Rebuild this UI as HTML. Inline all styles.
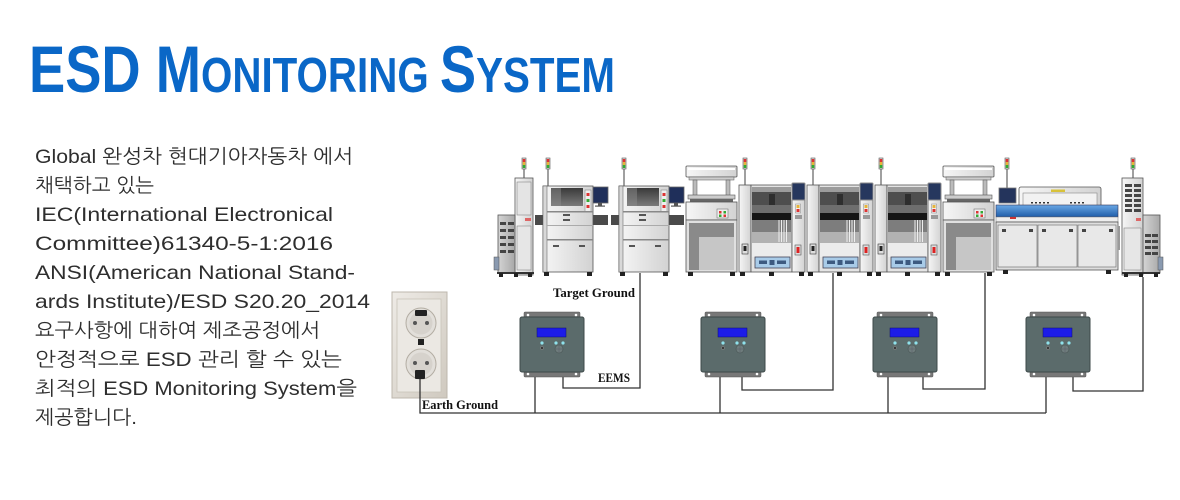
<!DOCTYPE html>
<html>
<head>
<meta charset="utf-8">
<style>
  html,body{margin:0;padding:0;background:#fff;}
  svg{display:block;}
</style>
</head>
<body>
<svg width="1180" height="500" viewBox="0 0 1180 500" xmlns="http://www.w3.org/2000/svg">
  <defs>
    <linearGradient id="gLight" x1="0" y1="0" x2="1" y2="0">
      <stop offset="0" stop-color="#f6f6f6"/>
      <stop offset="1" stop-color="#d2d2d2"/>
    </linearGradient>
    <linearGradient id="gMid" x1="0" y1="0" x2="1" y2="0">
      <stop offset="0" stop-color="#d4d4d4"/>
      <stop offset="1" stop-color="#a8a8a8"/>
    </linearGradient>
    <linearGradient id="gDark" x1="0" y1="0" x2="0" y2="1">
      <stop offset="0" stop-color="#3a3a3a"/>
      <stop offset="1" stop-color="#7a7a7a"/>
    </linearGradient>
    <linearGradient id="gBlue" x1="0" y1="0" x2="0" y2="1">
      <stop offset="0" stop-color="#6aa8e6"/>
      <stop offset="1" stop-color="#1e5ca8"/>
    </linearGradient>
    <linearGradient id="gSock" x1="0" y1="0" x2="1" y2="1">
      <stop offset="0" stop-color="#eeebe6"/>
      <stop offset="1" stop-color="#cfc9bf"/>
    </linearGradient>

    <g id="sig">
      <rect x="-2" y="0" width="4" height="11" fill="#ddd" stroke="#555" stroke-width="0.6"/>
      <rect x="-1.3" y="1" width="2.6" height="3" fill="#d33"/>
      <rect x="-1.3" y="4" width="2.6" height="3" fill="#e6b43a"/>
      <rect x="-1.3" y="7" width="2.6" height="3" fill="#3a3"/>
    </g>

    <!-- chip mounter -->
    <g id="mnt">
      <line x1="6" y1="168" x2="6" y2="185" stroke="#888" stroke-width="1.6"/>
      <use href="#sig" transform="translate(6,158)"/>
      <rect x="0" y="185" width="12" height="87" fill="url(#gLight)" stroke="#555" stroke-width="0.8"/>
      <rect x="12" y="185" width="41" height="87" fill="#e4e4e4" stroke="#555" stroke-width="0.8"/>
      <rect x="13" y="187" width="39" height="5" fill="#9c9c9c"/>
      <rect x="13" y="192" width="39" height="13" fill="#4e4e4e"/>
      <rect x="13" y="205" width="39" height="8" fill="#6e6e6e"/>
      <rect x="30" y="194" width="6" height="11" fill="#2e2e2e"/>
      <rect x="13" y="213" width="39" height="7" fill="#151515"/>
      <rect x="13" y="220" width="39" height="12" fill="#7d7d7d"/>
      <rect x="13" y="232" width="39" height="11" fill="#b2b2b2"/>
      <line x1="40" y1="220" x2="40" y2="242" stroke="#eee" stroke-width="1"/>
      <line x1="42.5" y1="220" x2="42.5" y2="242" stroke="#eee" stroke-width="1"/>
      <line x1="45" y1="220" x2="45" y2="242" stroke="#eee" stroke-width="1"/>
      <line x1="47.5" y1="220" x2="47.5" y2="242" stroke="#eee" stroke-width="1"/>
      <rect x="13" y="243" width="39" height="14" fill="#ececec"/>
      <rect x="16" y="257" width="35" height="11" fill="#a8cbe8" stroke="#445" stroke-width="0.8"/>
      <rect x="20" y="260.5" width="8" height="3.5" fill="#3d5a80"/>
      <rect x="30.5" y="260" width="5" height="5" fill="#3d5a80"/>
      <rect x="38" y="260.5" width="9" height="3.5" fill="#3d5a80"/>
      <rect x="53" y="185" width="13" height="87" fill="url(#gLight)" stroke="#555" stroke-width="0.8"/>
      <rect x="53" y="183" width="13" height="17" rx="1" fill="#26375e" stroke="#8a8a8a" stroke-width="1"/>
      <rect x="56.5" y="204" width="5" height="9" fill="#eee" stroke="#888" stroke-width="0.5"/>
      <rect x="57.5" y="205" width="3" height="3" fill="#e6b43a"/>
      <rect x="57.5" y="209" width="3" height="3" fill="#d33"/>
      <rect x="56" y="215" width="7" height="4" fill="#999"/>
      <rect x="56" y="245" width="6" height="10" fill="#ddd" stroke="#555" stroke-width="0.6"/>
      <rect x="57.5" y="247" width="3" height="6" fill="#d22"/>
      <rect x="3" y="244" width="6" height="10" fill="#ddd" stroke="#333" stroke-width="0.6"/>
      <rect x="4.5" y="246" width="3" height="5" fill="#222"/>
      <rect x="1" y="272" width="5" height="4" fill="#222"/>
      <rect x="30" y="272" width="5" height="4" fill="#222"/>
      <rect x="60" y="272" width="5" height="4" fill="#222"/>
    </g>

    <!-- inspection / printer machine -->
    <g id="aoi">
      <line x1="5" y1="168" x2="5" y2="186" stroke="#888" stroke-width="1.6"/>
      <use href="#sig" transform="translate(5,158)"/>
      <rect x="-8" y="215" width="8" height="10" fill="#4a4a4a"/>
      <rect x="50" y="215" width="15" height="10" fill="#4a4a4a"/>
      <rect x="0" y="186" width="50" height="86" fill="url(#gLight)" stroke="#555" stroke-width="0.8"/>
      <rect x="0" y="186" width="4" height="86" fill="#d8d8d8" stroke="#555" stroke-width="0.5"/>
      <rect x="8" y="188" width="32" height="18" fill="url(#gDark)"/>
      <rect x="8" y="188" width="10" height="18" fill="#8a8a8a" opacity="0.5"/>
      <rect x="42" y="190" width="6" height="22" fill="#eee" stroke="#777" stroke-width="0.5"/>
      <rect x="43.5" y="193" width="3" height="3" fill="#d33"/>
      <rect x="43.5" y="199" width="3" height="3" fill="#3a3"/>
      <rect x="43.5" y="205" width="3" height="3" fill="#d33"/>
      <rect x="4" y="211" width="46" height="1.5" fill="#888"/>
      <rect x="20" y="214" width="7" height="2" fill="#555"/>
      <rect x="20" y="219" width="7" height="2" fill="#555"/>
      <rect x="4" y="225" width="46" height="1" fill="#aaa"/>
      <rect x="4" y="239" width="46" height="1.5" fill="#888"/>
      <rect x="10" y="245" width="6" height="2" fill="#555"/>
      <rect x="36" y="245" width="6" height="2" fill="#555"/>
      <rect x="50" y="187" width="15" height="16" fill="#1f2f5a" stroke="#666" stroke-width="0.8"/>
      <rect x="55" y="203" width="4" height="3" fill="#555"/>
      <rect x="52" y="205.5" width="10" height="1.2" fill="#555"/>
      <rect x="1" y="272" width="5" height="4" fill="#222"/>
      <rect x="44" y="272" width="5" height="4" fill="#222"/>
    </g>

    <!-- frame machine -->
    <g id="prn">
      <rect x="0" y="166" width="51" height="11" rx="1" fill="url(#gLight)" stroke="#555" stroke-width="0.8"/>
      <rect x="2" y="168" width="47" height="2" fill="#fff"/>
      <rect x="3" y="177" width="45" height="3" fill="#ccc" stroke="#555" stroke-width="0.5"/>
      <rect x="7" y="180" width="4" height="16" fill="#bbb" stroke="#555" stroke-width="0.5"/>
      <rect x="40" y="180" width="4" height="16" fill="#bbb" stroke="#555" stroke-width="0.5"/>
      <rect x="2" y="195" width="47" height="4" fill="#ccc" stroke="#555" stroke-width="0.6"/>
      <rect x="4" y="199" width="43" height="3" fill="#666"/>
      <rect x="0" y="202" width="51" height="18" fill="url(#gLight)" stroke="#555" stroke-width="0.8"/>
      <rect x="31" y="209" width="11" height="9" fill="#eee" stroke="#777" stroke-width="0.6"/>
      <rect x="33" y="211" width="2.5" height="2.5" fill="#d33"/>
      <rect x="37.5" y="211" width="2.5" height="2.5" fill="#3a3"/>
      <rect x="33" y="214.5" width="2.5" height="2.5" fill="#3a3"/>
      <rect x="37.5" y="214.5" width="2.5" height="2.5" fill="#d33"/>
      <rect x="0" y="220" width="51" height="52" fill="#e0e0e0" stroke="#555" stroke-width="0.8"/>
      <rect x="3" y="223" width="45" height="47" fill="#8a8a8a"/>
      <rect x="13" y="237" width="35" height="33" fill="#c6c6c6"/>
      <rect x="2" y="272" width="5" height="4" fill="#222"/>
      <rect x="44" y="272" width="5" height="4" fill="#222"/>
    </g>

    <!-- EEMS monitor -->
    <g id="eems">
      <rect x="4" y="-5" width="56" height="8" rx="1" fill="#787878" stroke="#555" stroke-width="0.5"/>
      <rect x="4" y="52" width="56" height="8" rx="1" fill="#787878" stroke="#555" stroke-width="0.5"/>
      <rect x="0" y="0" width="64" height="55" rx="2" fill="#5b6b6b" stroke="#3c4848" stroke-width="1"/>
      <circle cx="8" cy="-2" r="1.3" fill="#fff"/>
      <circle cx="56" cy="-2" r="1.3" fill="#fff"/>
      <circle cx="8" cy="57" r="1.3" fill="#fff"/>
      <circle cx="56" cy="57" r="1.3" fill="#fff"/>
      <rect x="17" y="11" width="29" height="9" fill="#1c1ce8" stroke="#0c0c70" stroke-width="0.5"/>
      <circle cx="22" cy="26" r="1.6" fill="#8fe2ec"/>
      <circle cx="36" cy="26" r="1.6" fill="#8fe2ec"/>
      <circle cx="43" cy="26" r="1.6" fill="#8fe2ec"/>
      <circle cx="22" cy="31" r="1.6" fill="#3a3a3a" stroke="#aaa" stroke-width="0.4"/>
      <circle cx="39" cy="32" r="4" fill="#6e7c7c" stroke="#4a5656" stroke-width="0.6"/>
      <line x1="35.5" y1="32" x2="42.5" y2="32" stroke="#556" stroke-width="0.4"/>
      <line x1="39" y1="28.5" x2="39" y2="35.5" stroke="#556" stroke-width="0.4"/>
    </g>
  </defs>

  <!-- Title -->
  <text x="29" y="92" font-family="Liberation Sans, sans-serif" font-weight="bold" fill="#0a67c7" textLength="586" lengthAdjust="spacingAndGlyphs"><tspan font-size="66">ESD M</tspan><tspan font-size="49">ONITORING </tspan><tspan font-size="66">S</tspan><tspan font-size="49">YSTEM</tspan></text>

  <!-- Body text -->
  <g font-family="Liberation Sans, NanumGothic, 'Noto Sans CJK KR', sans-serif" font-size="19.5" fill="#2e2e2e">
    <text x="35" y="163" textLength="318" lengthAdjust="spacingAndGlyphs">Global 완성차 현대기아자동차 에서</text>
    <text x="35" y="192" textLength="119" lengthAdjust="spacingAndGlyphs">채택하고 있는</text>
    <text x="35" y="221" textLength="298" lengthAdjust="spacingAndGlyphs">IEC(International Electronical</text>
    <text x="35" y="250" textLength="298" lengthAdjust="spacingAndGlyphs">Committee)61340-5-1:2016</text>
    <text x="35" y="279" textLength="320" lengthAdjust="spacingAndGlyphs">ANSI(American National Stand-</text>
    <text x="35" y="308" textLength="335" lengthAdjust="spacingAndGlyphs">ards Institute)/ESD S20.20_2014</text>
    <text x="35" y="337" textLength="285" lengthAdjust="spacingAndGlyphs">요구사항에 대하여 제조공정에서</text>
    <text x="35" y="366" textLength="307" lengthAdjust="spacingAndGlyphs">안정적으로 ESD 관리 할 수 있는</text>
    <text x="35" y="395" textLength="322" lengthAdjust="spacingAndGlyphs">최적의 ESD Monitoring System을</text>
    <text x="35" y="424" textLength="102" lengthAdjust="spacingAndGlyphs">제공합니다.</text>
  </g>

  <!-- Loader -->
  <g>
    <line x1="524" y1="168" x2="524" y2="178" stroke="#888" stroke-width="1.6"/>
    <use href="#sig" transform="translate(524,158)"/>
    <rect x="515" y="178" width="18" height="97" fill="url(#gLight)" stroke="#555" stroke-width="0.8"/>
    <rect x="517" y="182" width="14" height="33" fill="#e4e4e4" stroke="#888" stroke-width="0.6"/>
    <rect x="525" y="218" width="6" height="3" fill="#d66"/>
    <rect x="517" y="226" width="14" height="44" fill="#e6e6e6" stroke="#888" stroke-width="0.6"/>
    <rect x="498" y="215" width="17" height="58" fill="url(#gMid)" stroke="#555" stroke-width="0.8"/>
    <rect x="500" y="222" width="6" height="3" fill="#444"/><rect x="508" y="222" width="6" height="3" fill="#444"/>
    <rect x="500" y="229" width="6" height="3" fill="#444"/><rect x="508" y="229" width="6" height="3" fill="#444"/>
    <rect x="500" y="236" width="6" height="3" fill="#444"/><rect x="508" y="236" width="6" height="3" fill="#444"/>
    <rect x="500" y="243" width="6" height="3" fill="#444"/><rect x="508" y="243" width="6" height="3" fill="#444"/>
    <rect x="500" y="250" width="6" height="3" fill="#444"/><rect x="508" y="250" width="6" height="3" fill="#444"/>
    <rect x="494" y="257" width="5" height="13" fill="#8a9ab0" stroke="#555" stroke-width="0.5"/>
    <rect x="497" y="272" width="37" height="2" fill="#333"/>
    <rect x="499" y="273" width="4" height="4" fill="#222"/><rect x="514" y="273" width="4" height="4" fill="#222"/><rect x="528" y="273" width="4" height="4" fill="#222"/>
  </g>

  <use href="#aoi" transform="translate(543,0)"/>
  <use href="#aoi" transform="translate(619,0)"/>
  <use href="#prn" transform="translate(686,0)"/>
  <use href="#mnt" transform="translate(739,0)"/>
  <use href="#mnt" transform="translate(807,0)"/>
  <use href="#mnt" transform="translate(875,0)"/>
  <use href="#prn" transform="translate(943,0)"/>

  <!-- Reflow oven -->
  <g>
    <line x1="1007" y1="168" x2="1007" y2="188" stroke="#888" stroke-width="1.6"/>
    <use href="#sig" transform="translate(1007,158)"/>
    <rect x="999" y="188" width="17" height="15" fill="#24345c" stroke="#777" stroke-width="0.8"/>
    <rect x="1019" y="187" width="82" height="26" rx="2" fill="url(#gLight)" stroke="#555" stroke-width="0.8"/>
    <rect x="1023" y="193" width="74" height="16" fill="#f2f2f2" stroke="#888" stroke-width="0.6"/>
    <rect x="1051" y="189.5" width="14" height="2.5" fill="#d8c23a"/>
    <g fill="#333">
      <rect x="1031" y="202" width="2" height="1.5"/><rect x="1035" y="202" width="2" height="1.5"/><rect x="1039" y="202" width="2" height="1.5"/><rect x="1043" y="202" width="2" height="1.5"/><rect x="1047" y="202" width="2" height="1.5"/>
      <rect x="1070" y="202" width="2" height="1.5"/><rect x="1074" y="202" width="2" height="1.5"/><rect x="1078" y="202" width="2" height="1.5"/><rect x="1082" y="202" width="2" height="1.5"/>
    </g>
    <rect x="996" y="205" width="122" height="12" fill="url(#gBlue)" stroke="#335" stroke-width="0.6"/>
    <rect x="996" y="217" width="122" height="5" fill="#eee" stroke="#777" stroke-width="0.5"/>
    <rect x="1010" y="217" width="6" height="2" fill="#c33"/>
    <rect x="996" y="222" width="122" height="48" fill="#dedede" stroke="#555" stroke-width="0.8"/>
    <rect x="998" y="225" width="39" height="42" fill="#e8e8e8" stroke="#777" stroke-width="0.7"/>
    <rect x="1038" y="225" width="39" height="42" fill="#e8e8e8" stroke="#777" stroke-width="0.7"/>
    <rect x="1078" y="225" width="38" height="42" fill="#e8e8e8" stroke="#777" stroke-width="0.7"/>
    <g fill="#444">
      <rect x="1002" y="229" width="4" height="3"/><rect x="1029" y="229" width="4" height="3"/>
      <rect x="1042" y="229" width="4" height="3"/><rect x="1069" y="229" width="4" height="3"/>
      <rect x="1082" y="229" width="4" height="3"/><rect x="1109" y="229" width="4" height="3"/>
    </g>
    <rect x="1118" y="226" width="2" height="24" fill="#999"/>
    <rect x="1003" y="270" width="5" height="4" fill="#222"/>
    <rect x="1106" y="270" width="5" height="4" fill="#222"/>
  </g>

  <!-- Unloader -->
  <g>
    <line x1="1133" y1="168" x2="1133" y2="178" stroke="#888" stroke-width="1.6"/>
    <use href="#sig" transform="translate(1133,158)"/>
    <rect x="1122" y="178" width="21" height="97" fill="url(#gLight)" stroke="#555" stroke-width="0.8"/>
    <g fill="#444">
      <rect x="1125" y="184" width="7" height="3"/><rect x="1134" y="184" width="7" height="3"/>
      <rect x="1125" y="189" width="7" height="3"/><rect x="1134" y="189" width="7" height="3"/>
      <rect x="1125" y="194" width="7" height="3"/><rect x="1134" y="194" width="7" height="3"/>
      <rect x="1125" y="199" width="7" height="3"/><rect x="1134" y="199" width="7" height="3"/>
      <rect x="1125" y="204" width="7" height="3"/><rect x="1134" y="204" width="7" height="3"/>
      <rect x="1125" y="209" width="7" height="3"/><rect x="1134" y="209" width="7" height="3"/>
    </g>
    <rect x="1136" y="218" width="5" height="3" fill="#d66"/>
    <rect x="1124" y="228" width="17" height="42" fill="#e6e6e6" stroke="#888" stroke-width="0.6"/>
    <rect x="1143" y="215" width="17" height="58" fill="url(#gMid)" stroke="#555" stroke-width="0.8"/>
    <g fill="#444">
      <rect x="1145" y="234" width="6" height="3"/><rect x="1152" y="234" width="6" height="3"/>
      <rect x="1145" y="240" width="6" height="3"/><rect x="1152" y="240" width="6" height="3"/>
      <rect x="1145" y="246" width="6" height="3"/><rect x="1152" y="246" width="6" height="3"/>
      <rect x="1145" y="252" width="6" height="3"/><rect x="1152" y="252" width="6" height="3"/>
    </g>
    <rect x="1158" y="257" width="5" height="13" fill="#8a9ab0" stroke="#555" stroke-width="0.5"/>
    <rect x="1122" y="272" width="38" height="2" fill="#333"/>
    <rect x="1124" y="273" width="4" height="4" fill="#222"/><rect x="1139" y="273" width="4" height="4" fill="#222"/><rect x="1154" y="273" width="4" height="4" fill="#222"/>
  </g>

  <!-- Socket -->
  <g>
    <rect x="392" y="292" width="55" height="106" fill="url(#gSock)" stroke="#bdb7ad" stroke-width="1"/>
    <rect x="397" y="299" width="44" height="93" fill="#ebe8e3" stroke="#c9c3b9" stroke-width="0.8"/>
    <circle cx="421" cy="323" r="15" fill="#e2dfda" stroke="#b3ada3" stroke-width="1"/>
    <circle cx="421" cy="323" r="11.5" fill="#d6d2cc"/>
    <circle cx="415" cy="323" r="2" fill="#555"/>
    <circle cx="427" cy="323" r="2" fill="#555"/>
    <rect x="415" y="310" width="12" height="6" rx="1" fill="#222"/>
    <rect x="418" y="339" width="6" height="6" fill="#222"/>
    <circle cx="421" cy="364" r="15" fill="#e2dfda" stroke="#b3ada3" stroke-width="1"/>
    <circle cx="421" cy="364" r="11.5" fill="#d6d2cc"/>
    <circle cx="415" cy="363" r="2" fill="#555"/>
    <circle cx="427" cy="363" r="2" fill="#555"/>
    <rect x="415" y="370" width="10" height="9" rx="1" fill="#222"/>
  </g>

  <!-- Wires -->
  <g fill="none" stroke="#333" stroke-width="1.3">
    <polyline points="420,379 420,413 1046,413"/>
    <line x1="535" y1="375" x2="535" y2="413"/>
    <polyline points="563,375 563,388 640,388 640,273"/>
    <line x1="720" y1="375" x2="720" y2="413"/>
    <polyline points="742,375 742,390 833,390 833,273"/>
    <line x1="888" y1="375" x2="888" y2="413"/>
    <polyline points="923,375 923,389 985,389 985,273"/>
    <line x1="1046" y1="375" x2="1046" y2="413"/>
    <polyline points="1073,375 1073,391 1143,391 1143,277"/>
  </g>

  <!-- EEMS monitors -->
  <use href="#eems" transform="translate(520,317)"/>
  <use href="#eems" transform="translate(701,317)"/>
  <use href="#eems" transform="translate(873,317)"/>
  <use href="#eems" transform="translate(1026,317)"/>

  <!-- Labels -->
  <g font-family="Liberation Serif, serif" font-weight="bold" fill="#111">
    <text x="553" y="297" font-size="13" textLength="82" lengthAdjust="spacingAndGlyphs">Target Ground</text>
    <text x="598" y="382" font-size="12.5" textLength="32" lengthAdjust="spacingAndGlyphs">EEMS</text>
    <text x="422" y="409" font-size="12.5" textLength="76" lengthAdjust="spacingAndGlyphs">Earth Ground</text>
  </g>
</svg>
</body>
</html>
